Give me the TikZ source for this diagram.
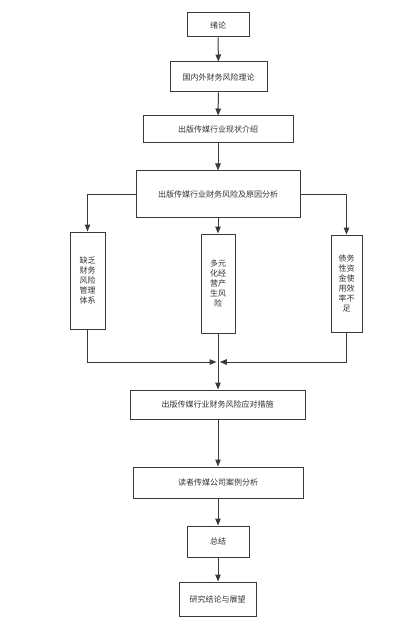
\documentclass[tikz,border=0pt]{standalone}
\usepackage{fontspec}
\newfontfamily\cjk{Noto Sans CJK SC}
\usetikzlibrary{arrows.meta}
\definecolor{ln}{HTML}{3A3A3A}
\definecolor{tx}{HTML}{333333}
\begin{document}
\begin{tikzpicture}[x=1pt,y=-1pt,
  box/.style={draw=ln,line width=1pt,rectangle,inner sep=0pt,align=center,
    font=\cjk\fontsize{8}{10}\selectfont,text=tx},
  arr/.style={draw=ln,line width=1pt,-{Triangle[length=7pt,width=5.5pt]}},
  ln/.style={draw=ln,line width=1pt}]
\useasboundingbox[fill=white] (0,0) rectangle (411,631);
\node[box,minimum width=62pt,minimum height=24pt] (b1) at (218,25) {绪论};
\node[box,minimum width=97pt,minimum height=30pt] (b2) at (218.5,77) {国内外财务风险理论};
\node[box,minimum width=150pt,minimum height=27pt] (b3) at (218,129.5) {出版传媒行业现状介绍};
\node[box,minimum width=164pt,minimum height=46pt] (b4) at (218,194) {出版传媒行业财务风险及原因分析};
\node[box,minimum width=35pt,minimum height=97pt] (L) at (87.5,280.5) {缺乏\\财务\\风险\\管理\\体系};
\node[box,minimum width=34pt,minimum height=99pt] (M) at (218,283.5) {多元\\化经\\营产\\生风\\险};
\node[box,minimum width=31pt,minimum height=97pt] (R) at (346.5,283.5) {债务\\性资\\金使\\用效\\率不\\足};
\node[box,minimum width=175pt,minimum height=29pt] (b5) at (217.5,404.5) {出版传媒行业财务风险应对措施};
\node[box,minimum width=170pt,minimum height=31pt] (b6) at (218,482.5) {读者传媒公司案例分析};
\node[box,minimum width=62pt,minimum height=31pt] (b7) at (218,541.5) {总结};
\node[box,minimum width=77pt,minimum height=34pt] (b8) at (217.5,599) {研究结论与展望};
\coordinate (jl) at (216.5,362);
\coordinate (jr) at (219.8,362);
\draw[arr] (b1) -- (b2);
\draw[arr] (b2) -- (b3);
\draw[arr] (b3) -- (b4);
\draw[arr] (b4.west) -| (L.north);
\draw[arr] (b4.east) -| (R.north);
\draw[arr] (b4.south -| M.north) -- (M.north);
\draw[arr] (L.south) |- (jl);
\draw[arr] (R.south) |- (jr);
\draw[arr] (M.south) -- (M.south |- b5.north);
\draw[arr] (b5.south -| b6.north) -- (b6.north);
\draw[arr] (b6) -- (b7);
\draw[arr] (b7.south) -- (b7.south |- b8.north);
\end{tikzpicture}
\end{document}
